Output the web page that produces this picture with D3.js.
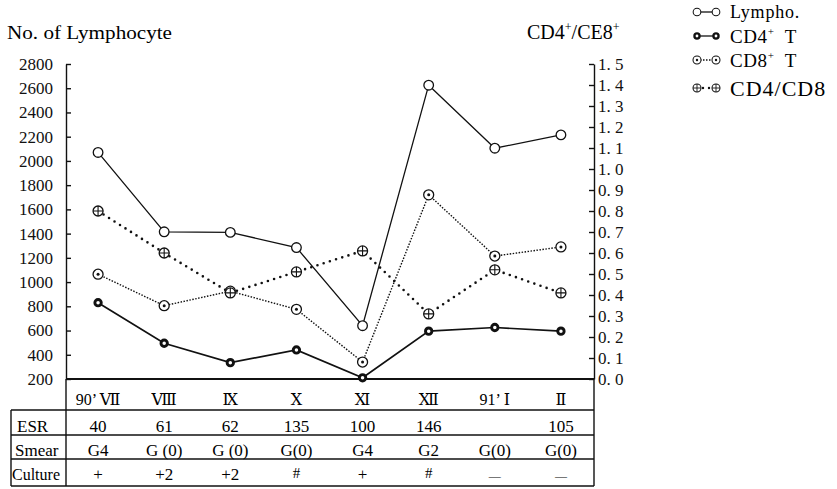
<!DOCTYPE html>
<html>
<head>
<meta charset="utf-8">
<script src="https://cdn.jsdelivr.net/npm/d3@7"></script>
<style>
  body { margin: 0; background: #fff; }
  svg { display: block; font-family: "Liberation Serif", "DejaVu Serif", serif; }
</style>
</head>
<body>
<svg></svg>
<script>
// values
let months = ["90\u2019 \u2166", "\u2167", "\u2168", "\u2169", "\u216A", "\u216B", "91\u2019 \u2160", "\u2161"];
let lympho = [2070, 1415, 1410, 1285, 640, 2625, 2105, 2215];
let cd4 = [830, 495, 335, 440, 210, 595, 625, 595];
let cd8 = [1065, 805, 925, 775, 340, 1720, 1215, 1290];
let ratio = [0.80, 0.60, 0.41, 0.51, 0.61, 0.31, 0.52, 0.41];

let esr = ["40", "61", "62", "135", "100", "146", "", "105"];
let smear = ["G4", "G (0)", "G (0)", "G(0)", "G4", "G2", "G(0)", "G(0)"];
let culture = ["+", "+2", "+2", "#", "+", "#", "\u2014", "\u2014"];
let rowNames = ["ESR", "Smear", "Culture"];

let leftTicks = [200, 400, 600, 800, 1000, 1200, 1400, 1600, 1800, 2000, 2200, 2400, 2600, 2800];
let rightTicks = [0, 0.1, 0.2, 0.3, 0.4, 0.5, 0.6, 0.7, 0.8, 0.9, 1.0, 1.1, 1.2, 1.3, 1.4, 1.5];

let serif = '"Liberation Serif", "DejaVu Serif", serif';
let w = 837;
let h = 489;
let plotL = 66;
let plotR = 594;
let plotT = 64;
let base = 379;
let tableLeft = 11;
let rowLines = [379, 410, 435, 459, 486]; // month row, ESR, Smear, Culture

let svg = d3.select('svg').attr('width', w).attr('height', h);

let xSc = d3.scaleBand().domain(months).range([plotL - 1, plotR]);
let cx = m => xSc(m) + xSc.bandwidth() / 2;
let yL = d3.scaleLinear().domain([200, 2800]).range([base, plotT]);
let yR = d3.scaleLinear().domain([0, 1.5]).range([base, plotT]);

// axes
let yAxisL = d3.axisLeft(yL).tickValues(leftTicks).tickSizeInner(-5).tickSizeOuter(0).tickPadding(13)
               .tickFormat(d3.format('d'));
svg.append('g')
   .attr('transform', 'translate(' + plotL + ',0)')
   .call(yAxisL)
   .attr('font-family', serif)
   .call(g => g.selectAll('text').attr('font-size', 17).attr('fill', '#111'))
   .call(g => g.selectAll('line, path').attr('stroke', '#111').attr('stroke-width', 1.4));

let yAxisR = d3.axisRight(yR).tickValues(rightTicks).tickSizeInner(-5).tickSizeOuter(0).tickPadding(4)
               .tickFormat(d => d3.format('.1f')(d).replace('.', '. '));
svg.append('g')
   .attr('transform', 'translate(' + plotR + ',0)')
   .call(yAxisR)
   .attr('font-family', serif)
   .call(g => g.selectAll('text').attr('font-size', 17).attr('fill', '#111'))
   .call(g => g.selectAll('line, path').attr('stroke', '#111').attr('stroke-width', 1.4));

// axis titles
svg.append('text').attr('x', 7).attr('y', 39).attr('font-size', 18)
   .attr('textLength', 165).attr('lengthAdjust', 'spacingAndGlyphs')
   .text('No. of Lymphocyte');

let rt = svg.append('text').attr('x', 527).attr('y', 39).attr('font-size', 20);
rt.append('tspan').text('CD4');
rt.append('tspan').attr('font-size', 12).attr('dy', -8).text('+');
rt.append('tspan').attr('dy', 8).text('/CE8');
rt.append('tspan').attr('font-size', 12).attr('dy', -8).text('+');

// table
let tbl = svg.append('g').attr('stroke', '#111').attr('stroke-width', 1.4);
tbl.append('line').attr('x1', plotL).attr('x2', plotR).attr('y1', base).attr('y2', base).attr('stroke-width', 2);
rowLines.slice(1).forEach(y => {
  tbl.append('line').attr('x1', tableLeft).attr('x2', plotR).attr('y1', y).attr('y2', y);
});
tbl.append('line').attr('x1', tableLeft).attr('x2', tableLeft).attr('y1', rowLines[1]).attr('y2', rowLines[4]);
tbl.append('line').attr('x1', plotL).attr('x2', plotL).attr('y1', base).attr('y2', rowLines[4]);
tbl.append('line').attr('x1', plotR).attr('x2', plotR).attr('y1', base).attr('y2', rowLines[4]);

svg.selectAll('.month')
   .data(months)
   .enter()
   .append('text')
   .attr('class', 'month')
   .attr('x', d => cx(d))
   .attr('y', 405)
   .attr('text-anchor', 'middle')
   .attr('font-size', 16)
   .text(d => d);

let rows = [esr, smear, culture];
let rowBase = [432, 456, 480];
rows.forEach((row, r) => {
  svg.selectAll('.row' + r)
     .data(row)
     .enter()
     .append('text')
     .attr('class', 'row' + r)
     .attr('x', (d, i) => cx(months[i]))
     .attr('y', d => d === '#' ? rowBase[r] - 2 : rowBase[r])
     .attr('text-anchor', 'middle')
     .attr('font-size', d => d === '#' ? 15 : (d === '\u2014' ? 12 : 17))
     .text(d => d);
});

svg.selectAll('.rowname')
   .data(rowNames)
   .enter()
   .append('text')
   .attr('class', 'rowname')
   .attr('x', (d, i) => [17, 15, 12][i])
   .attr('y', (d, i) => rowBase[i])
   .attr('font-size', (d, i) => i === 2 ? 16 : 17)
   .text(d => d);

// lines
let idx = d3.range(months.length);
let lineFor = (vals, sc) => d3.line().x(i => cx(months[i])).y(i => sc(vals[i]))(idx);

svg.append('path').attr('d', lineFor(lympho, yL)).attr('fill', 'none').attr('stroke', '#111').attr('stroke-width', 1.3);
svg.append('path').attr('d', lineFor(cd4, yL)).attr('fill', 'none').attr('stroke', '#111').attr('stroke-width', 1.7);
svg.append('path').attr('d', lineFor(cd8, yL)).attr('fill', 'none').attr('stroke', '#111').attr('stroke-width', 1.4)
   .attr('stroke-dasharray', '1.5 1.5');
svg.append('path').attr('d', lineFor(ratio, yR)).attr('fill', 'none').attr('stroke', '#111').attr('stroke-width', 2.6)
   .attr('stroke-dasharray', '0 6.5').attr('stroke-linecap', 'round');

// markers
let mark = (g, kind) => {
  if (kind === 'lympho') {
    g.append('circle').attr('r', 4.8).attr('fill', '#fff').attr('stroke', '#111').attr('stroke-width', 1.3);
  } else if (kind === 'cd4') {
    g.append('circle').attr('r', 3.2).attr('fill', '#fff').attr('stroke', '#111').attr('stroke-width', 2.9);
  } else if (kind === 'cd8') {
    g.append('circle').attr('r', 5).attr('fill', '#fff').attr('stroke', '#111').attr('stroke-width', 1.3);
    g.append('circle').attr('r', 1.5).attr('fill', '#111');
  } else {
    g.append('circle').attr('r', 5).attr('fill', '#fff').attr('stroke', '#111').attr('stroke-width', 1.3);
    g.append('path').attr('d', 'M-5,0H5M0,-5V5').attr('stroke', '#111').attr('stroke-width', 1.1);
  }
};

let series = [
  { vals: lympho, sc: yL, kind: 'lympho' },
  { vals: cd4, sc: yL, kind: 'cd4' },
  { vals: cd8, sc: yL, kind: 'cd8' },
  { vals: ratio, sc: yR, kind: 'ratio' }
];
series.forEach(s => {
  svg.selectAll('.m-' + s.kind)
     .data(s.vals)
     .enter()
     .append('g')
     .attr('class', 'm-' + s.kind)
     .attr('transform', (d, i) => 'translate(' + cx(months[i]) + ',' + s.sc(d) + ')')
     .each(function () { mark(d3.select(this), s.kind); });
});

// legend
let legend = [
  { kind: 'lympho', y: 12, base: 18, size: 18, ls: 0.8, parts: [['Lympho.', 0]] },
  { kind: 'cd4', y: 36, base: 43, size: 19, ls: 0.6, parts: [['CD4', 0], ['+', 1], ['\u00a0 T', 2]] },
  { kind: 'cd8', y: 60, base: 67, size: 19, ls: 0.6, parts: [['CD8', 0], ['+', 1], ['\u00a0 T', 2]] },
  { kind: 'ratio', y: 88, base: 96, size: 22, ls: 1, parts: [['CD4/CD8', 0]] }
];
legend.forEach(l => {
  let dash = { lympho: null, cd4: null, cd8: '1.5 1.5', ratio: '0 6' }[l.kind];
  svg.append('line').attr('x1', 697).attr('x2', 716).attr('y1', l.y).attr('y2', l.y)
     .attr('stroke', '#111').attr('stroke-width', l.kind === 'ratio' ? 2.4 : 1.3)
     .attr('stroke-dasharray', dash).attr('stroke-linecap', l.kind === 'ratio' ? 'round' : null);
  [697, 716].forEach(x => {
    let g = svg.append('g').attr('transform', 'translate(' + x + ',' + l.y + ') scale(0.8)');
    mark(g, l.kind);
  });
  let t = svg.append('text').attr('x', 730).attr('y', l.base).attr('font-size', l.size).attr('letter-spacing', l.ls);
  l.parts.forEach(p => {
    let sp = t.append('tspan').text(p[0]);
    if (p[1] === 1) sp.attr('font-size', 11).attr('dy', -8);
    if (p[1] === 2) sp.attr('dy', 8);
  });
});
</script>
</body>
</html>
